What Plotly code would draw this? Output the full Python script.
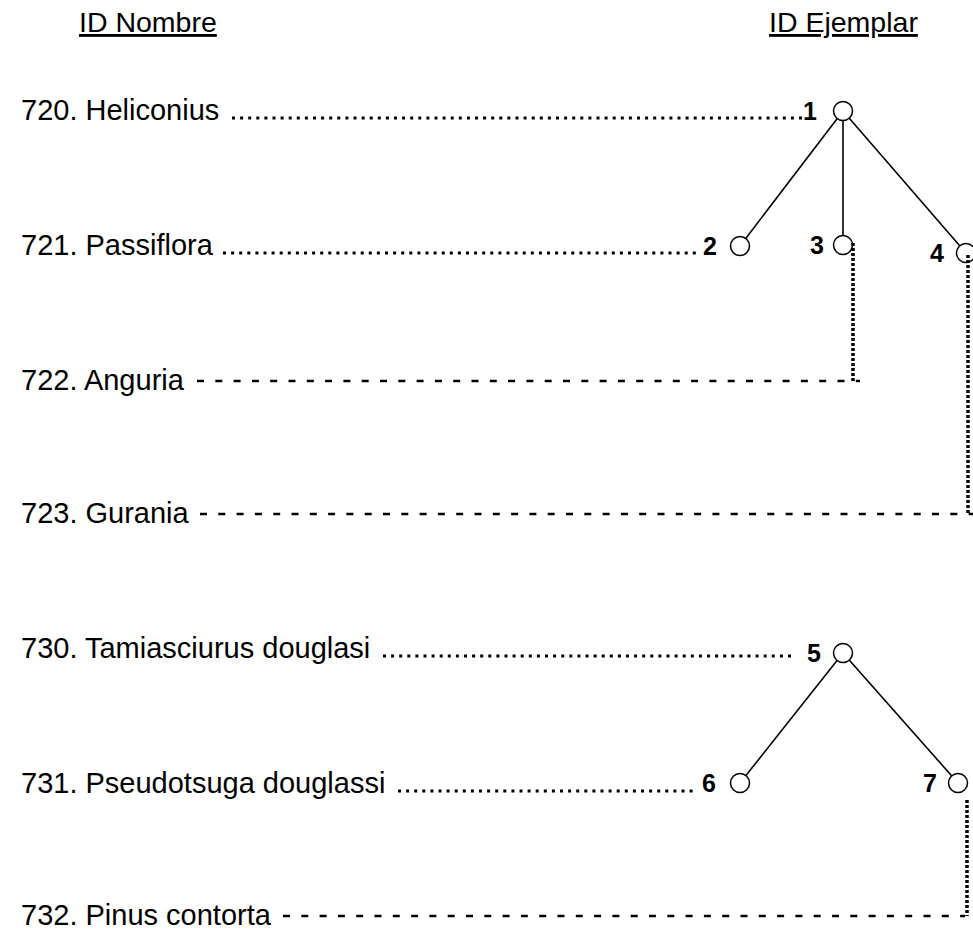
import plotly.graph_objects as go

# ---------------- data ----------------
headers = ["ID Nombre", "ID Ejemplar"]
header_x = [78, 768]
header_y = [22, 22]

names = ["720. Heliconius", "721. Passiflora", "722. Anguria", "723. Gurania",
         "730. Tamiasciurus douglasi", "731. Pseudotsuga douglassi", "732. Pinus contorta"]
row_y = [110, 245, 380, 513, 648, 783, 915]
leader_kind = ["dots", "dots", "dashes", "dashes", "dots", "dots", "dashes"]
leader_x0 = [232, 223, 197, 200, 383, 398, 283]
leader_x1 = [803, 700, 860, 973, 794, 693, 965]

node_labels = ["1", "2", "3", "4", "5", "6", "7"]
node_x = [843, 740, 843, 966, 843, 740, 958]
node_y = [111, 246, 245, 253, 653, 783, 783]
label_x = [818, 718, 825, 945, 822, 717, 938]

edges = [(0, 1), (0, 2), (0, 3), (4, 5), (4, 6)]

# vertical links from specimen node down to a name row
link_node = [2, 3, 6]
link_row = [2, 3, 6]
link_x = [853, 968, 967]
link_y0 = [243, 255, 800]

W, H = 973, 931
FONT = "Liberation Sans, Arial, sans-serif"

fig = go.Figure()

# tree edges
for a, b in edges:
    fig.add_trace(go.Scatter(x=[node_x[a], node_x[b]], y=[node_y[a], node_y[b]],
                             mode="lines", line=dict(color="black", width=1.6),
                             hoverinfo="skip", showlegend=False))

# nodes
fig.add_trace(go.Scatter(x=node_x, y=node_y, mode="markers",
                         marker=dict(symbol="circle", size=19, color="white",
                                     line=dict(color="black", width=1.5)),
                         hoverinfo="skip", showlegend=False))

# leaders
for i, kind in enumerate(leader_kind):
    if kind == "dots":
        ly = row_y[i] + 8
        ln = dict(color="black", width=3, dash="3px,5.1px")
    else:
        ly = row_y[i] + 1
        ln = dict(color="black", width=2.5, dash="7px,11.3px")
    fig.add_trace(go.Scatter(x=[leader_x0[i], leader_x1[i]], y=[ly, ly], mode="lines",
                             line=ln, hoverinfo="skip", showlegend=False))

# vertical dotted links
for k in range(len(link_node)):
    y1 = row_y[link_row[k]] + 1
    fig.add_trace(go.Scatter(x=[link_x[k], link_x[k]], y=[link_y0[k], y1], mode="lines",
                             line=dict(color="black", width=3.5, dash="3px,2px"),
                             hoverinfo="skip", showlegend=False))

annotations = []
for t, x, y in zip(headers, header_x, header_y):
    annotations.append(dict(x=x, y=y, text="<u>" + t + "</u>", showarrow=False,
                            xanchor="left", yanchor="middle",
                            font=dict(family=FONT, size=28.5, color="black")))
for t, y in zip(names, row_y):
    annotations.append(dict(x=20, y=y, text=t, showarrow=False,
                            xanchor="left", yanchor="middle",
                            font=dict(family=FONT, size=29, color="black")))
for t, x, y in zip(node_labels, label_x, node_y):
    annotations.append(dict(x=x, y=y, text="<b>" + t + "</b>", showarrow=False,
                            xanchor="right", yanchor="middle",
                            font=dict(family=FONT, size=25, color="black")))

fig.update_layout(
    width=W, height=H,
    margin=dict(l=0, r=0, t=0, b=0),
    paper_bgcolor="white", plot_bgcolor="white",
    xaxis=dict(range=[0, W], visible=False, fixedrange=True),
    yaxis=dict(range=[H, 0], visible=False, fixedrange=True),
    annotations=annotations,
)
for a in fig.layout.annotations:
    a.update(xref="x", yref="y", borderpad=0)

fig.write_html("out.html", config={"displayModeBar": False},
               post_script="document.body.style.margin='0';document.body.style.overflow='hidden';")
